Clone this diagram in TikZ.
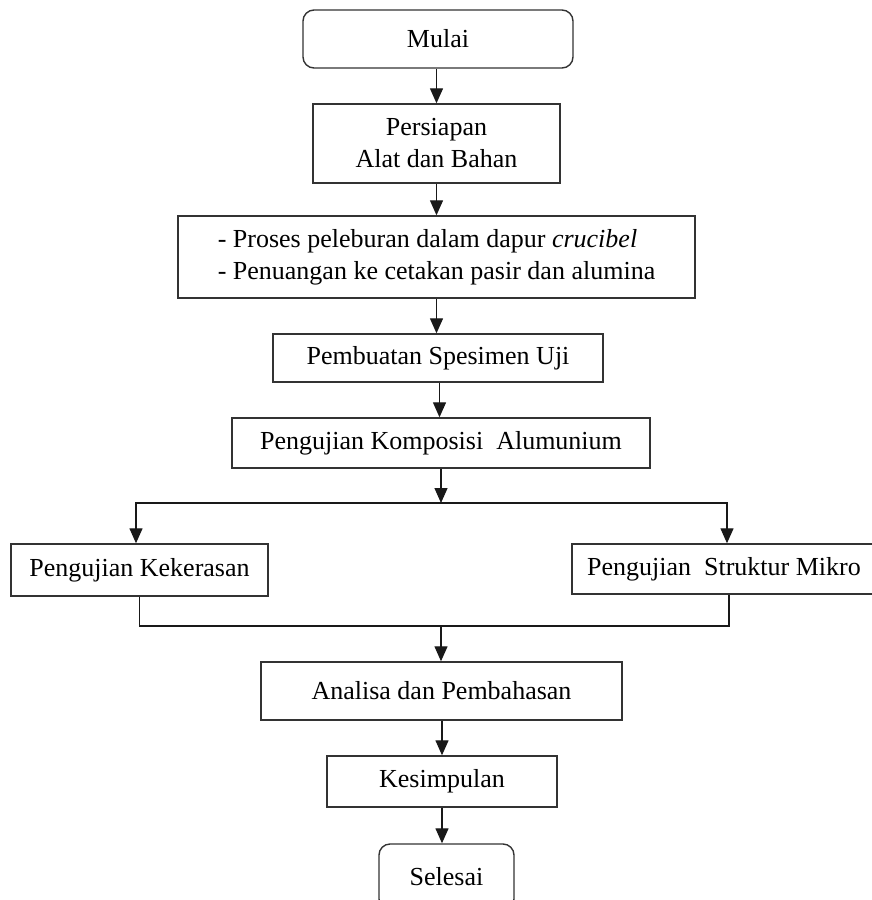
\documentclass[tikz,border=0pt]{standalone}
\usepackage{fontspec}
\setmainfont{Liberation Serif}
\usetikzlibrary{arrows.meta}

\begin{document}
\begin{tikzpicture}[x=1pt,y=-1pt,
  box/.style={draw=black!80, line width=1.4pt, inner sep=0pt, align=center,
    font=\fontsize{26}{32}\selectfont},
  endbox/.style={box, rounded corners=11pt},
  arr/.style={black!90, line width=1.3pt, -{Triangle[length=15pt,width=13pt]}},
  ln/.style={black!90, line width=1.3pt}]
\useasboundingbox (0,0) rectangle (872,900);
\node[endbox, minimum width=270pt, minimum height=58pt] (mulai) at (438,39) {Mulai};
\node[box, minimum width=247pt, minimum height=79pt] (persiapan) at (436.5,143.5) {Persiapan\\Alat dan Bahan};
\node[box, minimum width=517pt, minimum height=82pt] (lebur) at (436.5,257) {\begin{tabular}{@{}l@{}}- Proses peleburan dalam dapur \textit{crucibel}\\- Penuangan ke cetakan pasir dan alumina\end{tabular}};
\node[box, minimum width=330pt, minimum height=48pt] (spesimen) at (438,358) {Pembuatan Spesimen Uji};
\node[box, minimum width=418pt, minimum height=50pt] (komposisi) at (441,443) {Pengujian Komposisi~ Alumunium};
\node[box, minimum width=257pt, minimum height=52pt] (keras) at (139.5,570) {Pengujian Kekerasan};
\node[box, minimum width=304pt, minimum height=50pt] (mikro) at (724,569) {Pengujian~ Struktur Mikro};
\node[box, minimum width=361pt, minimum height=58pt] (analisa) at (441.5,691) {Analisa dan Pembahasan};
\node[box, minimum width=230pt, minimum height=51pt] (simpul) at (442,781.5) {Kesimpulan};
\node[endbox, minimum width=135pt, minimum height=66pt] (selesai) at (446.5,877) {Selesai};
\coordinate (cabang) at (441,503);
\coordinate (gabung) at (441,626);
\draw[arr] (mulai.south -| persiapan) -- (persiapan);
\draw[arr] (persiapan) -- (lebur);
\draw[arr] (lebur.south) -- (lebur.south |- spesimen.north);
\draw[arr] ([xshift=1.5pt]spesimen.south) -- ([xshift=1.5pt]spesimen.south |- komposisi.north);
\draw[arr] (komposisi.south) -- (cabang);
\draw[arr] (cabang) -| ([xshift=-3.5pt]keras.north);
\draw[arr] (cabang) -| ([xshift=3pt]mikro.north);
\draw[ln] (keras.south) |- (gabung) -| ([xshift=5pt]mikro.south);
\draw[arr] (gabung) -- (gabung |- analisa.north);
\draw[arr] (analisa.south -| simpul) -- (simpul);
\draw[arr] (simpul.south) -- (simpul.south |- selesai.north);
\end{tikzpicture}
\end{document}
